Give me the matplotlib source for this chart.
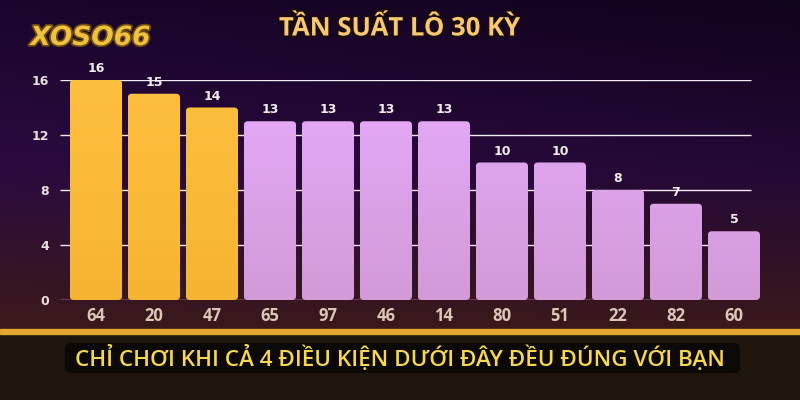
import numpy as np
import matplotlib.pyplot as plt
from matplotlib.patches import FancyBboxPatch, Rectangle
from matplotlib.colors import LinearSegmentedColormap
import matplotlib.patheffects as pe

# dữ liệu
so = ['64', '20', '47', '65', '97', '46', '14', '80', '51', '22', '82', '60']
tan_suat = [16, 15, 14, 13, 13, 13, 13, 10, 10, 8, 7, 5]
so_vang = 3  # ba số đầu tô màu vàng
y_ticks = [0, 4, 8, 12, 16]
tieu_de = 'TẦN SUẤT LÔ 30 KỲ'
chu_duoi = 'CHỈ CHƠI KHI CẢ 4 ĐIỀU KIỆN DƯỚI ĐÂY ĐỀU ĐÚNG VỚI BẠN'

plt.rcParams['font.family'] = ['DejaVu Sans']

fig = plt.figure(figsize=(8, 4), dpi=100)

# nền
bg = fig.add_axes([0, 0, 1, 1], zorder=-10)
bg.set_xlim(0, 1)
bg.set_ylim(0, 1)
bg.axis('off')
yy = np.linspace(0, 1, 200)[:, None]
xx = np.linspace(0, 1, 300)[None, :]
top = np.array([0.10, 0.02, 0.17])
mid = np.array([0.17, 0.04, 0.25])
bot = np.array([0.23, 0.10, 0.10])
t = yy  # 0 dưới, 1 trên
img = np.where(t[..., None] > 0.5,
               mid + (top - mid) * ((t[..., None] - 0.5) / 0.5),
               bot + (mid - bot) * (t[..., None] / 0.5))
img = img * (1 - 0.35 * xx[..., None] * t[..., None])
img = np.broadcast_to(img, (200, 300, 3))
bg.imshow(img, extent=[0, 1, 0.17, 1], origin='lower', aspect='auto')
bg.add_patch(Rectangle((0, 0), 1, 0.17, color='#1e150c'))
bg.add_patch(Rectangle((0, 0.165), 1, 0.013, color='#e0a830'))
bg.add_patch(FancyBboxPatch((0.088, 0.075), 0.83, 0.06,
                            boxstyle='round,pad=0.006,rounding_size=0.01',
                            color='#0b0806'))
bg.text(0.5, 0.106, chu_duoi, ha='center', va='center', fontsize=16.2,
        color='#f5d850', family='Open Sans', fontweight='semibold',
        fontstretch='condensed')
bg.text(0.5, 0.93, tieu_de, ha='center', va='center', fontsize=18.5,
        color='#f7c870', family='Open Sans', fontweight='bold',
        path_effects=[pe.withStroke(linewidth=3, foreground='#1a0a10')])
bg.text(0.113, 0.905, 'XOSO66', ha='center', va='center', fontsize=19,
        color='#f0c040', family='DejaVu Sans', fontweight='bold',
        style='italic',
        path_effects=[pe.withStroke(linewidth=2.5, foreground='#6a4a10')])

# biểu đồ
ax = fig.add_axes([60 / 800, 100 / 400, 700 / 800, 220 / 400])
ax.patch.set_alpha(0)
x = np.arange(len(so))
bars = ax.bar(x, tan_suat, width=0.9)

cm_vang = LinearSegmentedColormap.from_list('v', ['#f7b432', '#fdbf40'])
cm_tim = LinearSegmentedColormap.from_list('t', ['#d39ad8', '#e6aafa'])
for i, b in enumerate(bars):
    b.set_visible(False)
    p = FancyBboxPatch((b.get_x(), 0), b.get_width(), b.get_height(),
                       boxstyle='round,pad=0,rounding_size=0.07',
                       mutation_aspect=4.2, facecolor='none',
                       edgecolor='none', zorder=3)
    ax.add_patch(p)
    cm = cm_vang if i < so_vang else cm_tim
    grad = np.linspace(0, 1, 100)[:, None]
    im = ax.imshow(grad, cmap=cm, origin='lower', aspect='auto',
                   extent=[b.get_x(), b.get_x() + b.get_width(), 0, 16],
                   zorder=3)
    im.set_clip_path(p)
    ax.text(b.get_x() + b.get_width() / 2, b.get_height() + 0.35,
            str(tan_suat[i]), ha='center', va='bottom', fontsize=9,
            color='#f4ecf0', fontweight='bold', zorder=5)
ax.set_xlim(-0.62, 11.45)
ax.set_ylim(0, 16)

# lưới ngang dừng trước cột cuối
ax.hlines(y_ticks, -0.62, 11.29, color='#f4eaf4', linewidth=1, zorder=1)

ax.set_yticks(y_ticks)
ax.set_yticklabels([str(v) for v in y_ticks], fontsize=9,
                   color='#eadfe0', fontweight='bold')
ax.set_xticks(x)
ax.set_xticklabels(so, fontsize=12, color='#dcc6b8', fontweight='bold',
                   family='Open Sans')
ax.tick_params(length=0, pad=8)
ax.tick_params(axis='x', pad=5)
for s in ax.spines.values():
    s.set_visible(False)

fig.savefig('out.png', dpi=100)
